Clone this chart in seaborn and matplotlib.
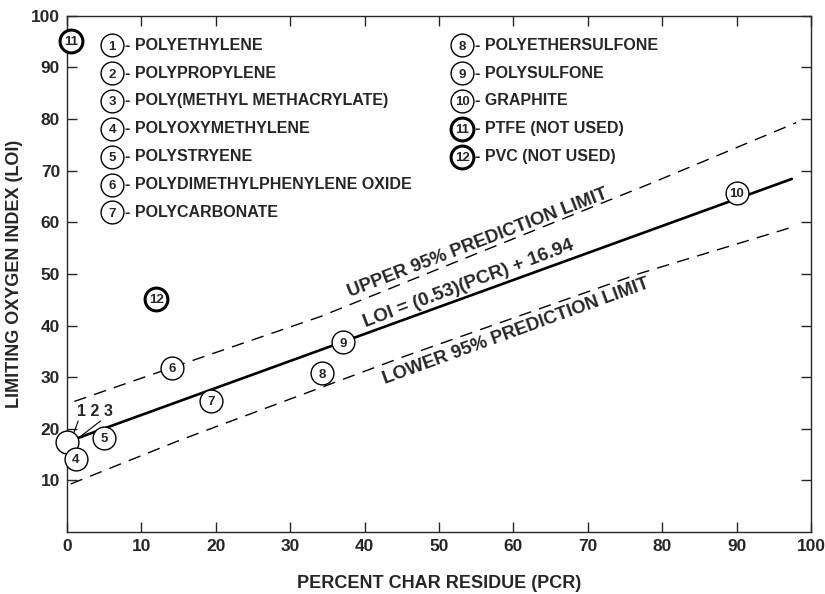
import matplotlib
matplotlib.use("Agg")
import matplotlib.pyplot as plt
import seaborn as sns
import pandas as pd

# materials, numbered as in the key
mat_ids = [1, 2, 3, 4, 5, 6, 7, 8, 9, 10, 11, 12]
mat_names = ["POLYETHYLENE", "POLYPROPYLENE", "POLY(METHYL METHACRYLATE)",
             "POLYOXYMETHYLENE", "POLYSTRYENE", "POLYDIMETHYLPHENYLENE OXIDE",
             "POLYCARBONATE", "POLYETHERSULFONE", "POLYSULFONE", "GRAPHITE",
             "PTFE (NOT USED)", "PVC (NOT USED)"]

# measured points (percent char residue, limiting oxygen index)
pcr = [0.0, 0.5, 1.0, 1.2, 5.0, 14.1, 19.4, 34.3, 37.1, 90.0, 0.5, 12.0]
loi = [17.4, 17.8, 17.6, 14.2, 18.3, 31.8, 25.4, 30.8, 36.8, 65.7, 95.2, 45.2]
not_used = [11, 12]

# regression line and 95% prediction limits
fit_x = [0.7, 97.4]
fit_y = [17.8, 68.4]
upper_x = [1, 14, 34, 78.4, 98]
upper_y = [25.3, 31.8, 41.7, 67.5, 79.3]
lower_x = [0.5, 15.2, 45.5, 77, 98]
lower_y = [9.3, 17.8, 34.1, 50.1, 59.3]

sns.set_style("ticks")
plt.rcParams['font.family'] = ['Liberation Sans', 'DejaVu Sans']
plt.rcParams['font.weight'] = 'bold'

df = pd.DataFrame({'id': mat_ids, 'pcr': pcr, 'loi': loi})

fig = plt.figure(figsize=(8.25, 5.94), dpi=100)
ax = fig.add_axes([0.0812, 0.1044, 0.902, 0.869])

CIRCLE = 270
NUM_SIZE = 9.5

# lines
sns.lineplot(x=fit_x, y=fit_y, color='black', lw=1.9, ax=ax, zorder=2)
sns.lineplot(x=upper_x, y=upper_y, color='black', lw=1.0,
             linestyle=(0, (9, 6)), ax=ax, zorder=2)
sns.lineplot(x=lower_x, y=lower_y, color='black', lw=1.0,
             linestyle=(0, (9, 6)), ax=ax, zorder=2)

# circles
circ = df[~df['id'].isin([2, 3] + not_used)]
thick = df[df['id'].isin(not_used)]
sns.scatterplot(data=circ, x='pcr', y='loi', s=CIRCLE, color='white',
                edgecolor='black', linewidth=1.0, ax=ax, zorder=3, clip_on=False)
sns.scatterplot(data=thick, x='pcr', y='loi', s=CIRCLE, color='white',
                edgecolor='black', linewidth=2.2, ax=ax, zorder=3, clip_on=False)
for _, r in df.iterrows():
    if r['id'] in (1, 2, 3):
        continue
    ax.text(r['pcr'], r['loi'], str(int(r['id'])), ha='center', va='center_baseline',
            fontsize=NUM_SIZE, weight='bold', zorder=4, clip_on=False)

# labels for the 1-2-3 cluster
ax.text(1.3, 21.8, "1 2 3", ha='left', va='bottom', fontsize=11.5, weight='bold')
ax.plot([1.5, 0.6], [21.5, 17.9], color='black', lw=0.8)
ax.plot([4.5, 1.0], [21.5, 17.6], color='black', lw=0.8)

# key
for i, (mid, name) in enumerate(zip(mat_ids, mat_names)):
    col = 0 if i < 7 else 1
    row = i if i < 7 else i - 7
    cx = 6.05 if col == 0 else 53.1
    cy = 94.3 - row * 5.4
    lw = 2.2 if mid in not_used else 1.0
    ax.scatter([cx], [cy], s=CIRCLE, color='white', edgecolor='black', linewidth=lw, zorder=3)
    ax.text(cx, cy, str(mid), ha='center', va='center_baseline', fontsize=NUM_SIZE,
            weight='bold', zorder=4)
    ax.text(cx + 1.7, cy, "- " + name, ha='left', va='center', fontsize=11.5, weight='bold')

# line annotations
ax.text(55.2, 56.0, "UPPER 95% PREDICTION LIMIT", rotation=21, rotation_mode='anchor',
        ha='center', va='center', fontsize=13.2, weight='bold')
ax.text(53.9, 48.1, "LOI = (0.53)(PCR) + 16.94", rotation=20.5, rotation_mode='anchor',
        ha='center', va='center', fontsize=13.6, weight='bold')
ax.text(60.3, 38.8, "LOWER 95% PREDICTION LIMIT", rotation=20, rotation_mode='anchor',
        ha='center', va='center', fontsize=13.2, weight='bold')

ax.set_xlim(0, 100)
ax.set_ylim(0, 100)
ax.set_xticks(range(0, 101, 10))
ax.set_yticks(range(10, 101, 10))
ax.tick_params(direction='in', length=7, width=1, top=True, right=True,
               labelsize=12.5, pad=5)
for s in ax.spines.values():
    s.set_linewidth(1.0)
ax.set_xlabel("PERCENT CHAR RESIDUE (PCR)", fontsize=13, weight='bold', labelpad=15)
ax.set_ylabel("LIMITING OXYGEN INDEX (LOI)", fontsize=13, weight='bold', labelpad=6)

fig.savefig("out.png", dpi=100)
